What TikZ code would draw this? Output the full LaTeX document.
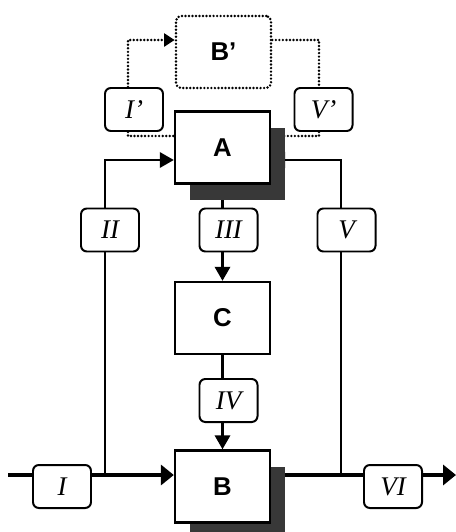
\documentclass[tikz,border=0pt]{standalone}
\usepackage{fontspec}
\setmainfont{Liberation Serif}
\setsansfont{Liberation Sans}
\usetikzlibrary{arrows.meta, positioning, shadows, backgrounds}

\begin{document}
\begin{tikzpicture}[x=0.03cm, y=-0.03cm,
	block/.style={draw, line width=2pt, fill=white, minimum width=2.85cm, minimum height=2.16cm,
		font=\sffamily\bfseries\fontsize{22}{22}\selectfont},
	shade/.style={drop shadow={shadow xshift=0.45cm, shadow yshift=-0.48cm, opacity=1, fill=black!78}},
	tag/.style={draw, line width=1.7pt, rounded corners=5pt, fill=white, minimum width=1.74cm, minimum height=1.29cm,
		font=\itshape\fontsize{23}{23}\selectfont},
	rail/.style={line width=2.4pt},
	mainline/.style={line width=4.2pt},
	dotline/.style={line width=2.3pt, line cap=round, dash pattern=on 0pt off 3pt},
	tip/.style={-{Triangle[length=12pt, width=13pt]}},
	bigtip/.style={-{Triangle[length=11pt, width=17pt]}}]

	\useasboundingbox (0,0) rectangle (456,532);

	% 1. Blocks
	\node[block, dotline, rounded corners=4pt] (Bp) at (223.5,52) {B'};
	\node[block, shade] (A) at (222.5,147.5) {A};
	\node[block] (C) at (222.5,318) {C};
	\node[block, shade] (B) at (222.5,486.5) {B};

	% 2. Flow tags
	\node[tag] (Ip) at (134,109.5) {I'};
	\node[tag] (Vp) at (323.5,109.5) {V'};
	\node[tag] (II) at (110,230) {II};
	\node[tag] (III) at (228.5,230) {III};
	\node[tag] (V) at (346.5,230) {V};
	\node[tag] (IV) at (228.5,400.5) {IV};
	\node[tag] (I) at (62,486.5) {I};
	\node[tag] (VI) at (393,486.5) {VI};

	% rail corners
	\coordinate (dt) at (128,40);   % dotted, top left
	\coordinate (dr) at (319,40);   % dotted, top right
	\coordinate (db) at (128,136);  % dotted, lower left
	\coordinate (drb) at (319,136); % dotted, lower right
	\coordinate (lt) at (105,160);
	\coordinate (rt) at (341,160);
	\coordinate (in) at (8,475);
	\coordinate (out) at (456,475);

	\begin{scope}[on background layer]
		% 3. Dotted loop over B'
		\draw[dotline, -{Triangle[length=9pt, width=11pt]}] (Ip.north -| dt) |- (dt -| Bp.west);
		\draw[dotline] (Bp.east |- dr) -| (Vp.north -| dr);
		\draw[dotline] (Ip.south -| db) |- (db -| A.west);
		\draw[dotline] (Vp.south -| drb) |- (drb -| A.east);

		% 4. Main line through B
		\draw[mainline] (in) -- (I.west |- in);
		\draw[mainline, bigtip] (I.east |- in) -- (in -| B.west);
		\draw[mainline] (in -| B.east) -- (VI.west |- in);
		\draw[mainline, bigtip] (VI.east |- in) -- (out);

		% 5. Side rails up to A
		\draw[rail] (lt |- in) -- (lt |- II.south);
		\draw[rail, tip] (lt |- II.north) |- (A.west |- lt);
		\draw[rail] (rt |- in) -- (rt |- V.south);
		\draw[rail, tip] (rt |- V.north) |- (A.east |- rt);

		% 6. Centre column A -> C -> B
		\draw[rail] (A.south) -- (A.south |- III.north);
		\draw[rail, tip] (A.south |- III.south) -- (C.north);
		\draw[rail] (C.south) -- (C.south |- IV.north);
		\draw[rail, tip] (C.south |- IV.south) -- (B.north);
	\end{scope}

\end{tikzpicture}
\end{document}
